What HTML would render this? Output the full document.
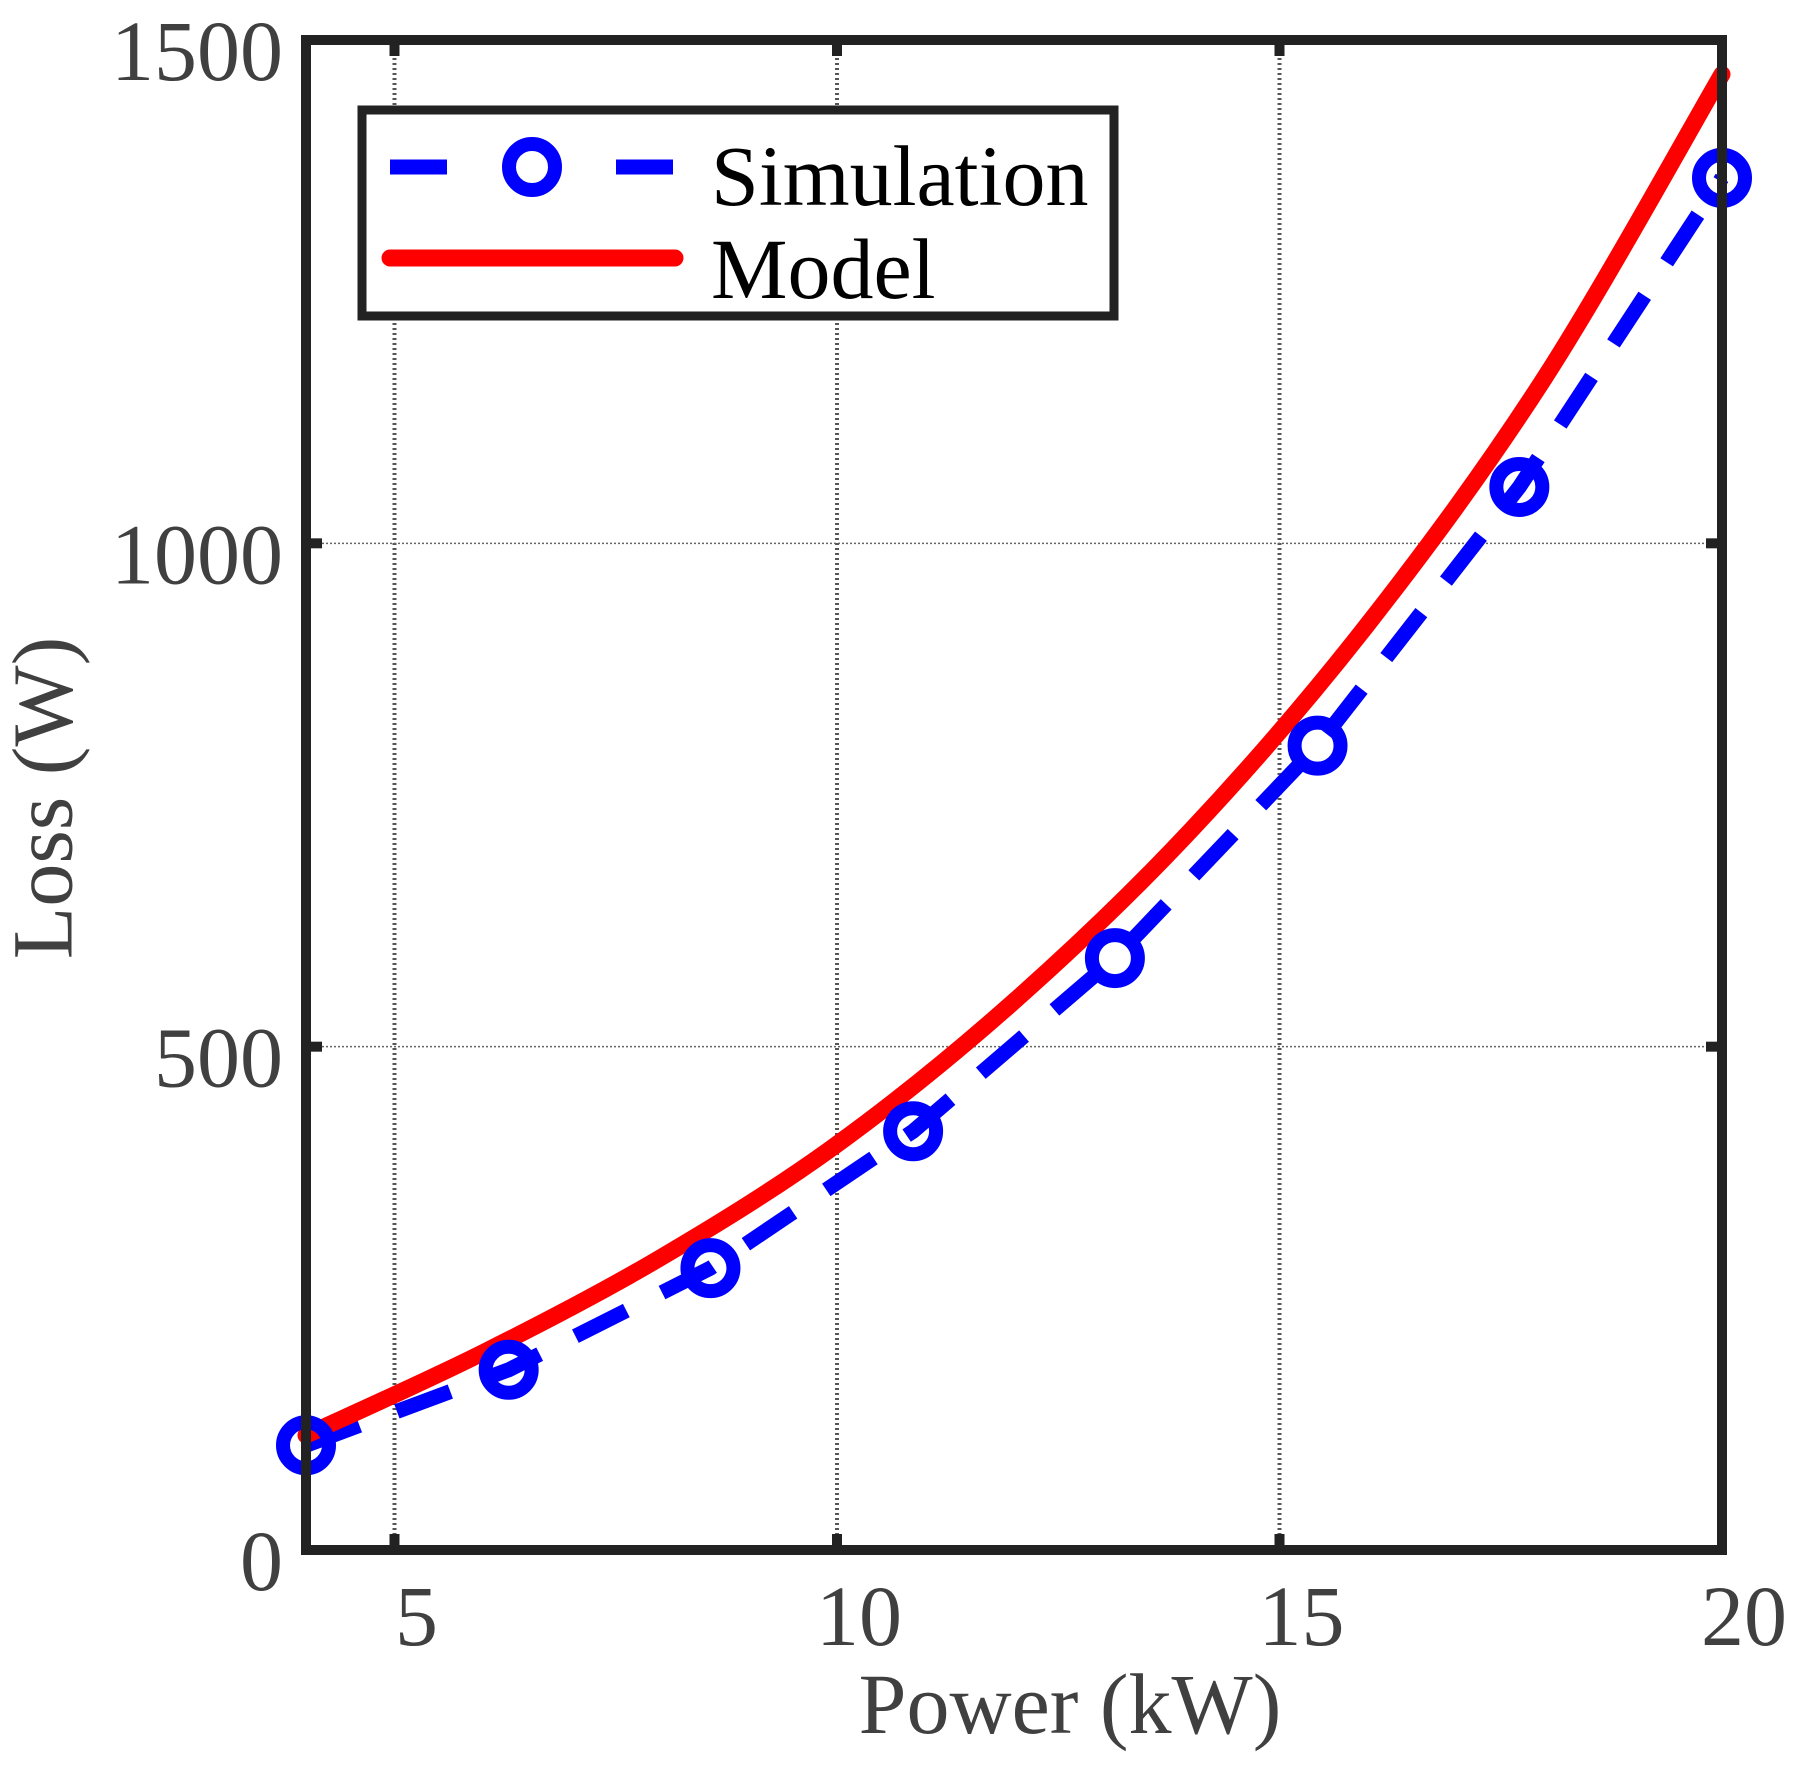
<!DOCTYPE html>
<html><head><meta charset="utf-8"><style>
html,body{margin:0;padding:0;background:#fff;}
svg{display:block;}
text{font-family:"Liberation Serif","Times New Roman",serif;}
</style></head><body>
<svg id="chart" width="1802" height="1768" viewBox="0 0 1802 1768" xmlns="http://www.w3.org/2000/svg">
<g id="grid"></g>
<g id="series"></g>
<rect x="306" y="40" width="1416" height="1510" fill="none" stroke="#222" stroke-width="10"/>
<g id="ticks"></g>
<text x="52" y="798" font-size="86" fill="#404040" text-anchor="middle" transform="rotate(-90 52 798)" dominant-baseline="middle">Loss (W)</text>
<text x="1070" y="1733" font-size="86" fill="#404040" text-anchor="middle">Power (kW)</text>
<g>
<rect x="362" y="110" width="752" height="206" fill="#fff" stroke="#222" stroke-width="9"/>
<line x1="390" y1="167" x2="673" y2="167" stroke="#0000ff" stroke-width="15" stroke-dasharray="57 169"/>
<circle cx="532" cy="167" r="23" fill="none" stroke="#0000ff" stroke-width="14"/>
<text x="711" y="205" font-size="86" fill="#000">Simulation</text>
<line x1="390" y1="258" x2="675" y2="258" stroke="#ff0000" stroke-width="17" stroke-linecap="round"/>
<text x="711" y="298" font-size="86" fill="#000">Model</text>
</g>
</svg>
<script>
const xTicks = [5, 10, 15, 20];
const yTicks = [0, 500, 1000, 1500];
const simX = [4, 6.29, 8.57, 10.86, 13.14, 15.43, 17.71, 20];
const simY = [104, 179, 280, 416, 588, 799, 1056, 1363];
const modelX = [4, 6, 8, 10, 12, 14, 16, 18, 20];
const modelY = [114, 196, 290, 403, 545, 715, 920, 1165, 1466];

const NS = "http://www.w3.org/2000/svg";
const X0 = 306, X1 = 1722, Y0 = 1550, Y1 = 40;
const xs = v => X0 + (v - 4) / 16 * (X1 - X0);
const ys = v => Y0 - v / 1500 * (Y0 - Y1);
function mk(tag, attrs, parent) {
  const e = document.createElementNS(NS, tag);
  for (const k in attrs) e.setAttribute(k, attrs[k]);
  parent.appendChild(e);
  return e;
}
const grid = document.getElementById('grid');
const ticks = document.getElementById('ticks');
const chart = document.getElementById('chart');
xTicks.forEach(t => {
  const x = xs(t);
  if (t < 20) {
    const g = mk('line', {x1: x, y1: Y0, x2: x, y2: Y1, stroke: '#555', 'stroke-width': 4, 'stroke-dasharray': '2 3'}, grid);
    
    
  }
  const a = mk('line', {x1: x, y1: Y0, x2: x, y2: Y0 - 16, stroke: '#222', 'stroke-width': 10}, ticks);
  
  
  const b = mk('line', {x1: x, y1: Y1, x2: x, y2: Y1 + 16, stroke: '#222', 'stroke-width': 10}, ticks);
  
  
  const l = mk('text', {x: x + 22, y: 1645, 'font-size': 86, fill: '#404040', 'text-anchor': 'middle'}, chart);
  l.textContent = t;
  
  
});
yTicks.forEach(t => {
  const y = ys(t);
  if (t > 0 && t < 1500) {
    const g = mk('line', {x1: X0, y1: y, x2: X1, y2: y, stroke: '#666', 'stroke-width': 1.5, 'stroke-dasharray': '2 2'}, grid);
    
    
  }
  const a = mk('line', {x1: X0, y1: y, x2: X0 + 16, y2: y, stroke: '#222', 'stroke-width': 10}, ticks);
  
  
  const b = mk('line', {x1: X1, y1: y, x2: X1 - 16, y2: y, stroke: '#222', 'stroke-width': 10}, ticks);
  
  
  const l = mk('text', {x: 283, y: y + 40, 'font-size': 86, fill: '#404040', 'text-anchor': 'end'}, chart);
  l.textContent = t;
  
  
});
const series = document.getElementById('series');
const sp = simX.map((x, i) => xs(x) + ',' + ys(simY[i])).join(' ');
const sl = mk('polyline', {points: sp, fill: 'none', stroke: '#0000ff', 'stroke-width': 15, 'stroke-dasharray': '57 40'}, series);


const P = modelX.map((x, i) => [xs(x), ys(modelY[i])]);
let d = 'M' + P[0][0] + ',' + P[0][1];
for (let i = 0; i < P.length - 1; i++) {
  const p0 = P[Math.max(i - 1, 0)], p1 = P[i], p2 = P[i + 1], p3 = P[Math.min(i + 2, P.length - 1)];
  const c1 = [p1[0] + (p2[0] - p0[0]) / 6, p1[1] + (p2[1] - p0[1]) / 6];
  const c2 = [p2[0] - (p3[0] - p1[0]) / 6, p2[1] - (p3[1] - p1[1]) / 6];
  d += ' C' + c1.join(',') + ' ' + c2.join(',') + ' ' + p2.join(',');
}
const ml = mk('path', {d: d, fill: 'none', stroke: '#ff0000', 'stroke-width': 17, 'stroke-linecap': 'round'}, series);


simX.forEach((x, i) => {
  const c = mk('circle', {cx: xs(x), cy: ys(simY[i]), r: 23, fill: 'none', stroke: '#0000ff', 'stroke-width': 14}, series);
  
  
});
</script>
</body></html>
